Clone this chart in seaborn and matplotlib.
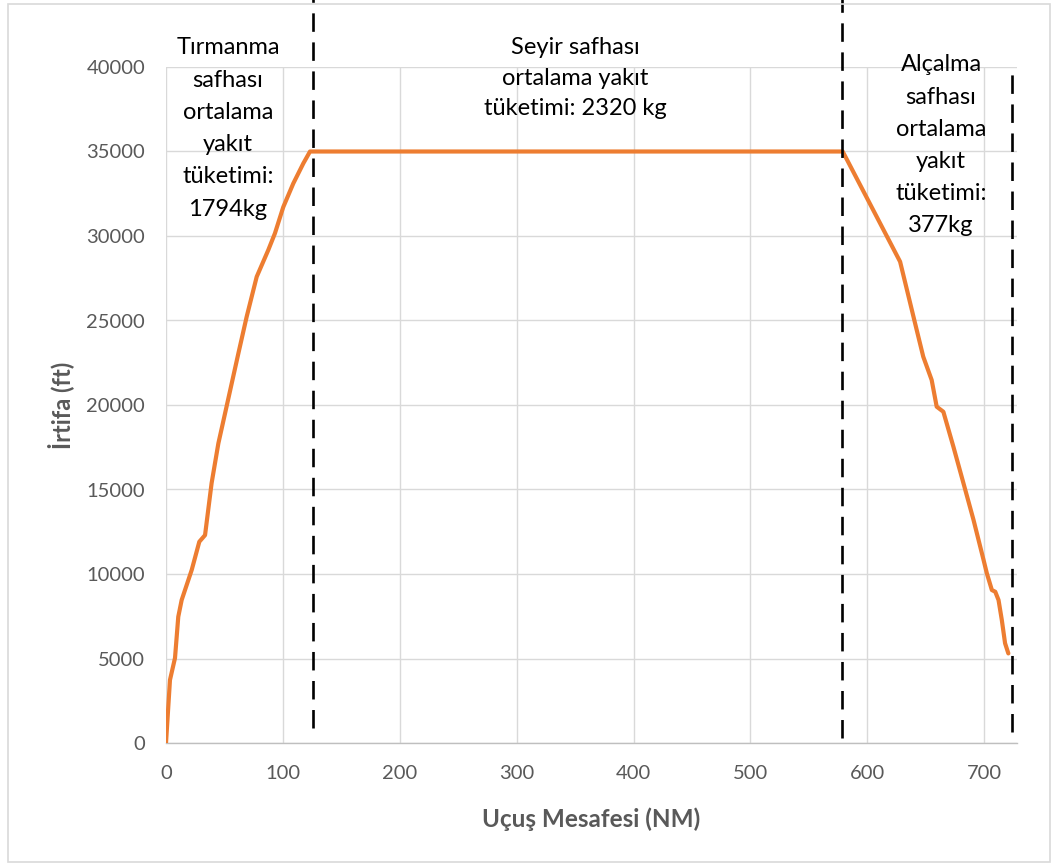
import matplotlib
matplotlib.use("Agg")
import matplotlib.pyplot as plt
import seaborn as sns
import pandas as pd
from matplotlib.patches import Rectangle

# Flight profile: distance flown (NM) vs altitude (ft)
distance_nm = [0, 3.4, 7.7, 10.5, 13.4, 22, 28.5, 33.4, 39, 44.8, 50.5, 61.9, 69, 77.6,
               87.5, 93.2, 100.3, 108.9, 117.5, 123.2,
               300, 450, 578.9,
               603, 628, 642.2, 647.8, 655, 659.3, 665, 673.6, 682.2, 690.8, 699.4,
               702.2, 706.5, 709.4, 712.2, 715, 717.8, 720.6]
altitude_ft = [0, 3730, 5030, 7470, 8460, 10240, 11910, 12300, 15370, 17730, 19500, 23050,
               25220, 27590, 29170, 30160, 31710, 33110, 34300, 35000,
               35000, 35000, 35000,
               31800, 28480, 24440, 22860, 21480, 19900, 19600, 17530, 15370, 13200, 10830,
               10040, 9050, 8950, 8460, 7280, 5900, 5300]

# Phase boundaries (NM) and the altitude span of each dashed marker (ft)
phase_bounds = [126, 578, 724]
bound_low = [900, 300, 650]
bound_high = [44000, 44000, 40000]

x_ticks = [0, 100, 200, 300, 400, 500, 600, 700]
y_ticks = [0, 5000, 10000, 15000, 20000, 25000, 30000, 35000, 40000]

climb_note = "Tırmanma\nsafhası\nortalama\nyakıt\ntüketimi:\n1794kg"
cruise_note = "Seyir safhası\nortalama yakıt\ntüketimi: 2320 kg"
descent_note = "Alçalma\nsafhası\nortalama\nyakıt\ntüketimi:\n377kg"

df = pd.DataFrame({"Mesafe": distance_nm, "İrtifa": altitude_ft})

sns.set_theme(style="white")
plt.rcParams["font.family"] = ["Lato", "DejaVu Sans"]

fig = plt.figure(figsize=(10.61, 8.63), dpi=100)
ax = fig.add_axes([166 / 1061, 1 - 743 / 863, (1017 - 166) / 1061, (743 - 67) / 863])

# chart-area frame
fig.patches.append(Rectangle((8 / 1061, 1 / 863), (1050 - 8) / 1061, (859 - 1) / 863,
                             transform=fig.transFigure, fill=False,
                             edgecolor="#d9d9d9", linewidth=1.2))

sns.lineplot(data=df, x="Mesafe", y="İrtifa", sort=False, ax=ax,
             color="#ED7D31", linewidth=3.0, zorder=3)

for xb, lo, hi in zip(phase_bounds, bound_low, bound_high):
    ax.plot([xb, xb], [lo, hi], color="black", linewidth=1.9,
            dashes=(7, 4), clip_on=False, zorder=4)

ax.set_xlim(0, 728)
ax.set_ylim(0, 40000)
ax.set_xticks(x_ticks)
ax.set_yticks(y_ticks)
ax.set_xticklabels([str(t) for t in x_ticks])
ax.set_yticklabels([str(t) for t in y_ticks])
ax.tick_params(axis="both", length=0, labelsize=14.5, colors="#595959")
ax.tick_params(axis="x", pad=16)
ax.tick_params(axis="y", pad=15)

ax.grid(True, color="#d9d9d9", linewidth=1.0)
ax.set_axisbelow(True)
for side in ["top", "right", "left"]:
    ax.spines[side].set_visible(False)
ax.spines["bottom"].set_color("#bfbfbf")
ax.spines["bottom"].set_linewidth(1.0)

ax.set_xlabel("Uçuş Mesafesi (NM)", fontsize=17.5, fontweight="bold", color="#595959", labelpad=18)
ax.set_ylabel("İrtifa (ft)", fontsize=17, fontweight="bold", color="#595959", labelpad=9)

note_kw = dict(ha="center", va="top", fontsize=17, color="black",
               clip_on=False, zorder=5)
ax.text(53, 41750, climb_note, linespacing=1.66, **note_kw)
ax.text(350, 41750, cruise_note, linespacing=1.55, **note_kw)
ax.text(663, 40750, descent_note, linespacing=1.66, **note_kw)

fig.savefig("out.png", dpi=100)
